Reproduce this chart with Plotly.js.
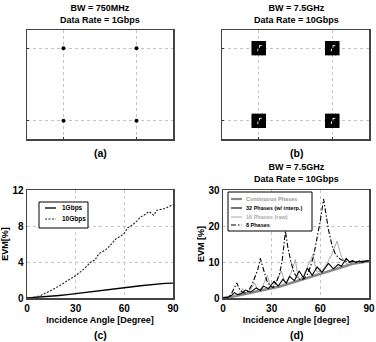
<!DOCTYPE html>
<html><head><meta charset="utf-8">
<script src="https://cdn.plot.ly/plotly-3.0.1.min.js"></script>
<style>body{margin:0;padding:0;background:#fff}#g{width:376px;height:342px}</style>
</head><body><div id="g"></div>
<script>
// ---------- DATA ----------
// (a) constellation, BW=750MHz, 1Gbps
const symI_a = [-1, 1, -1, 1];
const symQ_a = [1, 1, -1, -1];
// (b) constellation, BW=7.5GHz, 10Gbps : cluster centres and spread offsets
const symI_b = [-1, 1, -1, 1];
const symQ_b = [1, 1, -1, -1];
const spreadI = [-0.14,-0.047,0.047,0.14,-0.14,-0.047,0.14,-0.14,0.047,0.14,-0.14,-0.047,0.047,0.14,-0.09,0.09,-0.1];
const spreadQ = [0.14,0.14,0.14,0.14,0.047,0.047,0.047,-0.047,-0.047,-0.047,-0.14,-0.14,-0.14,-0.14,0.0,0.0,-0.1];
// (c) EVM vs incidence angle
const angC = [0,5,10,15,20,25,30,35,40,45,50,55,60,65,70,75,80,85,90];
const evm1G = [0,0.05,0.12,0.2,0.28,0.37,0.47,0.58,0.7,0.82,0.93,1.04,1.14,1.25,1.36,1.46,1.55,1.62,1.65];
const ang10G = [0,3,5,8,10,15,20,25,30,35,38,40,42,43,45,48,50,53,55,58,60,62,65,68,70,73,75,76,78,80,82,85,88,90];
const evm10G = [0,0.02,0.08,0.25,0.4,0.85,1.35,1.9,2.5,3.2,3.8,4.1,4.2,4.6,5.0,5.3,5.6,6.2,6.6,6.9,7.2,7.8,8.1,8.6,9.0,9.3,9.6,9.5,9.2,9.75,9.8,9.95,10.2,10.4];
// (d) EVM vs incidence angle for phase quantization
const angCont = [0,3,6,10,15,20,25,30,35,40,45,50,55,60,65,70,75,80,85,90];
const evmCont = [0,0.1,0.4,0.8,1.3,1.8,2.2,2.6,3.2,3.9,4.6,5.3,6.0,6.8,7.5,8.3,9.0,9.5,9.9,10.2];
const ang32 = [0,3,5,7,9,11,14,17,20.5,23,25,28,31.5,34,37,39,41,44,47,49.5,52,55,58,61,65,68,71,73,76,78,80,82,84,86,88,90];
const evm32 = [0,0.2,0.6,1.5,0.9,1.2,2.2,1.6,2.8,2.1,3.3,2.6,4.6,3.3,5.2,4.1,6.0,4.8,7.5,5.6,8.3,6.3,8.6,7.1,9.6,8.1,9.3,8.8,11.0,10.0,10.4,9.8,10.3,9.9,10.3,10.3];
const ang16 = [0,4,5.8,8,10,12,13,14.5,17,19.5,21,22,24.5,27.3,29,30,33,36,38,39,42,44.6,46,47,50,53,55.5,57,58,61,64,67,70.3,72,73,76,79,82,86,90];
const evm16 = [0,0.3,0.8,0.6,1.2,2.6,1.7,1.3,2.3,4.2,2.6,2.0,3.4,6.3,3.6,2.8,4.6,7.5,4.6,3.9,7.0,10.7,6.5,5.0,6.6,9.5,12.1,8.5,7.2,7.6,9.5,12.0,15.8,13.0,11.5,9.5,10.3,9.8,10.0,10.2];
const ang8 = [0,3,5,6.5,8.5,10,12,14,16,18,20,21.5,23,25,27,29,31,33,35,36.5,38.5,40,42,44,46,48,50,52,54,56,58,60,62,63.5,65,67,69,71,73,75,78,81,84,87,90];
const evm8 = [0,0.2,1.0,2.2,4.2,2.6,1.6,1.3,2.2,3.8,6.0,8.0,11.0,7.5,4.8,3.3,2.9,4.5,7.0,10.5,18.6,14,9.8,6.8,5.5,5.0,5.4,6.5,8.8,12.0,16.5,21.5,27.5,23,19,15,12.5,11.2,10.6,10.3,10.0,10.2,10.0,10.3,10.2];
// tick labels
const tickC_x = [0,30,60,90];
const tickC_y = [0,4,8,12];
const tickD_y = [0,10,20,30];

// ---------- BUILD ----------
function cloud(cI, cQ){
  const x=[], y=[];
  for(let k=0;k<cI.length;k++) for(let j=0;j<spreadI.length;j++){x.push(cI[k]+spreadI[j]); y.push(cQ[k]+spreadQ[j]);}
  return {x,y};
}
const cb = cloud(symI_b, symQ_b);
const F = 'Liberation Sans, Arial, sans-serif';
const W=376, H=342;
const px = v=>v/W, py = v=>1-v/H;

const traces = [
  {x:symI_a, y:symQ_a, xaxis:'x', yaxis:'y', mode:'markers', marker:{color:'#000', size:4}, showlegend:false},
  {x:cb.x, y:cb.y, xaxis:'x2', yaxis:'y2', mode:'markers', marker:{color:'#000', size:4.2, symbol:'square', line:{width:0}}, showlegend:false},
  {x:angC, y:evm1G, xaxis:'x3', yaxis:'y3', mode:'lines', line:{color:'#000', width:1.3}, showlegend:false},
  {x:ang10G, y:evm10G, xaxis:'x3', yaxis:'y3', mode:'lines', line:{color:'#222', width:1.1, dash:'2px,1.5px'}, showlegend:false},
  {x:angCont, y:evmCont, xaxis:'x4', yaxis:'y4', mode:'lines', line:{color:'#888', width:2.6}, showlegend:false},
  {x:ang16, y:evm16, xaxis:'x4', yaxis:'y4', mode:'lines', line:{color:'#aaa', width:1}, showlegend:false},
  {x:ang32, y:evm32, xaxis:'x4', yaxis:'y4', mode:'lines', line:{color:'#000', width:1.1}, showlegend:false},
  {x:ang8, y:evm8, xaxis:'x4', yaxis:'y4', mode:'lines', line:{color:'#000', width:1.1, dash:'5px,2px,1.5px,2px'}, showlegend:false}
];

const tickFont = {family:F, size:10, color:'#000', weight:'bold'};
const titleFont = {family:F, size:9, color:'#000', weight:'bold'};
function constAx(dom, rng){
  return {domain:dom, range:rng, tickvals:[-1,1], showticklabels:false, ticks:'inside', ticklen:2, tickcolor:'#333',
    showgrid:true, gridcolor:'#c4c4c4', griddash:'dot', gridwidth:1, zeroline:false,
    showline:true, mirror:true, linecolor:'#444', linewidth:1.5, fixedrange:true};
}
function evmAx(dom, rng, tv, title, standoff){
  return {domain:dom, range:rng, tickvals:tv, ticktext:tv.map(String), tickfont:tickFont, ticks:'',
    showgrid:true, gridcolor:'#c4c4c4', griddash:'dot', gridwidth:1, zeroline:false,
    showline:true, mirror:true, linecolor:'#444', linewidth:1.5, automargin:false,
    title:{text:title, font:titleFont, standoff:standoff}};
}
const layout = {
  width:W, height:H, margin:{l:0,r:0,t:0,b:0}, paper_bgcolor:'#fff', plot_bgcolor:'#fff', showlegend:false,
  xaxis: constAx([px(27),px(173)],[-2,2]),
  yaxis: constAx([py(139),py(30)],[-1.5,1.5]),
  xaxis2: constAx([px(222),px(369)],[-2,2]),
  yaxis2: constAx([py(139),py(30)],[-1.5,1.5]),
  xaxis3: evmAx([px(27),px(173)],[0,90],tickC_x,'Incidence Angle [Degree]',4),
  yaxis3: evmAx([py(298),py(190)],[0,12],tickC_y,'EVM[%]',2),
  xaxis4: evmAx([px(223),px(369)],[0,90],tickC_x,'Incidence Angle [degree]',4),
  yaxis4: evmAx([py(298),py(190)],[0,30],tickD_y,'EVM [%]',2),
  shapes:[], annotations:[]
};
layout.xaxis2.anchor='y2'; layout.yaxis2.anchor='x2';
layout.xaxis3.anchor='y3'; layout.yaxis3.anchor='x3';
layout.xaxis4.anchor='y4'; layout.yaxis4.anchor='x4';

function ann(text, x, y, size, color, xanchor){
  layout.annotations.push({text, x:px(x), y:py(y), xref:'paper', yref:'paper', showarrow:false,
    xanchor:xanchor||'center', yanchor:'middle', font:{family:F, size, color:color||'#000', weight:'bold'}});
}
ann('BW = 750MHz<br>Data Rate = 1Gbps', 100, 13.5, 9);
ann('BW = 7.5GHz<br>Data Rate = 10Gbps', 296, 13.5, 9);
ann('BW = 7.5GHz<br>Data Rate = 10Gbps', 296, 172.5, 9);
ann('(a)', 100, 153, 10.5);
ann('(b)', 296, 153, 10.5);
ann('(c)', 100, 335, 10.5);
ann('(d)', 296, 335, 10.5);

function rect(x0,y0,x1,y1){layout.shapes.push({type:'rect', xref:'paper', yref:'paper', x0:px(x0), x1:px(x1), y0:py(y1), y1:py(y0), line:{color:'#000', width:1}, fillcolor:'#fff', layer:'above'});}
function seg(x0,x1,y,color,width,dash){layout.shapes.push({type:'line', xref:'paper', yref:'paper', x0:px(x0), x1:px(x1), y0:py(y), y1:py(y), line:{color, width, dash:dash||'solid'}, layer:'above'});}
// legend (c)
rect(39,202,88,228);
seg(45,56,208,'#000',1.3); ann('1Gbps', 60, 208, 6.5, '#000', 'left');
seg(45,56,219,'#222',1.1,'2px,1.5px'); ann('10Gbps', 60, 219, 6.5, '#000', 'left');
// legend (d)
rect(228,192,312,231);
seg(231,242,199,'#888',2.2); ann('Continuous Phases', 244, 199, 5.5, '#999', 'left');
seg(231,242,208,'#000',1.1); ann('32 Phases (w/ interp.)', 244, 208, 5.5, '#000', 'left');
seg(231,242,217,'#aaa',1); ann('16 Phases (raw)', 244, 217, 5.5, '#aaa', 'left');
seg(231,242,225,'#000',1.1,'5px,2px,1.5px,2px'); ann('8 Phases', 244, 225, 5.5, '#000', 'left');

Plotly.newPlot('g', traces, layout, {staticPlot:true, displayModeBar:false});
</script></body></html>
